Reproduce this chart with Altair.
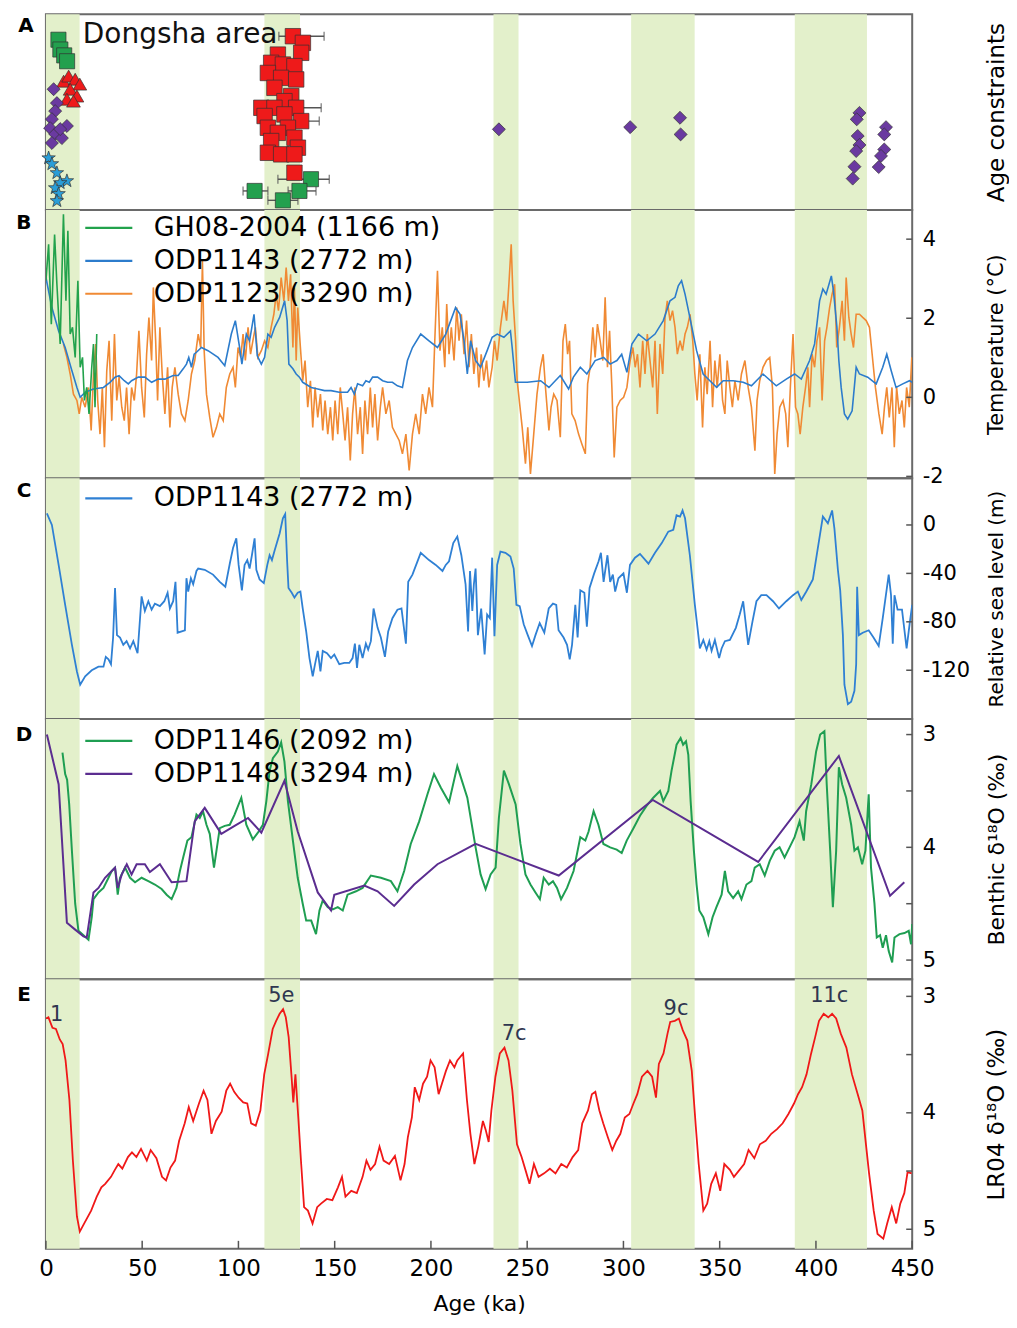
import altair as alt
import pandas as pd

FONT = "DejaVu Sans"
W = 868
HA, HB, HC, HD, HE = 196, 269, 241, 261, 270
BAND = "#e3f0cb"
TICKC = "#555555"

# ---------------- data ----------------
band_start = [0, 113.5, 232.5, 304, 389]
band_end = [17.5, 132, 245.5, 337, 426.5]

# Panel A : age constraints (age ka, relative vertical position)
A_green_sq = [(6.5, 0.87), (7.5, 0.82), (9.5, 0.79), (11, 0.76),
              (137.7, 0.157), (108.4, 0.097), (131.7, 0.097), (123.1, 0.049)]
A_green_err = [(137.7, 0.157, 120.5, 147.2), (108.4, 0.097, 102.4, 115.3),
               (131.7, 0.097, 125.8, 140.3), (123.1, 0.049, 115.3, 130.9)]
A_red_tri = [(9.2, 0.658), (11.8, 0.684), (15.2, 0.668), (17.6, 0.643),
             (12.6, 0.617), (16.1, 0.582), (10.9, 0.566), (14.3, 0.556)]
A_purple = [(4.0, 0.617), (5.7, 0.546), (4.8, 0.505), (3.1, 0.464), (2.2, 0.418),
            (10.9, 0.429), (4.8, 0.388), (8.3, 0.367), (3.1, 0.342), (7.4, 0.413),
            (235.3, 0.412), (303.5, 0.423), (329.4, 0.471), (329.7, 0.386),
            (422.6, 0.496), (421.2, 0.463), (421.7, 0.378), (422.6, 0.332),
            (420.9, 0.301), (420, 0.221), (419.1, 0.160), (436.4, 0.423),
            (435.5, 0.386), (435.5, 0.309), (433.8, 0.276), (432.6, 0.219)]
A_blue_star = [(1.4, 0.265), (3.1, 0.235), (5.7, 0.189), (10.9, 0.148),
               (7.4, 0.138), (4.8, 0.112), (6.6, 0.082), (5.7, 0.046)]
A_red_sq = [(128.3, 0.888), (133.5, 0.854), (132.6, 0.803), (120.5, 0.794),
            (117, 0.752), (123.1, 0.743), (129.1, 0.735), (115.3, 0.700),
            (122.2, 0.675), (130, 0.667), (118.7, 0.624), (127.4, 0.582),
            (123.9, 0.556), (111.9, 0.522), (118.7, 0.522), (130, 0.522),
            (113.6, 0.480), (123.9, 0.488), (132.6, 0.454), (115.3, 0.420),
            (125.7, 0.420), (120.5, 0.394), (129.1, 0.369), (117, 0.352),
            (130.9, 0.318), (115.3, 0.292), (122.2, 0.284), (129.1, 0.284),
            (129.1, 0.190)]
A_red_err = [(128.3, 0.888, 121, 144.5), (130, 0.522, 117, 143),
             (132.6, 0.454, 124, 142)]

# Panel B : temperature (deg C)
B_GH08 = [(0, 2.95), (1.4, 3.87), (2.8, 1.85), (4.5, 4.12), (5.7, 2.86), (7.4, 1.35),
          (9.1, 4.63), (10.4, 2.44), (11.4, 4.21), (12.6, 1.60), (13.8, 1.77),
          (15.2, 1.01), (16.6, 2.95), (17.8, 0.76), (19, 1.01), (20, -0.08),
          (21.2, 0.25), (22.4, -0.42), (23.8, 0.76), (24.7, 1.35), (25.5, -0.25),
          (26.4, 1.60)]
B_1143 = [(0, 3.03), (3.1, 2.27), (6.6, 1.68), (10, 1.26), (13.5, 0.67), (16.1, 0.25),
          (17.8, 0), (20.4, 0.13), (24.7, 0.21), (29.9, 0.25), (33.3, 0.38), (35.9, 0.51),
          (38, 0.55), (40.7, 0.42), (42.8, 0.34), (44.5, 0.42), (48, 0.51), (51.4, 0.51),
          (54.9, 0.38), (58.3, 0.46), (61.8, 0.46), (66.1, 0.55), (68.7, 0.55), (71.3, 0.72),
          (73, 0.84), (74.2, 1.01), (75.6, 0.76), (77, 1.09), (78.2, 1.14), (80.8, 1.26),
          (84.2, 1.18), (89.4, 1.01), (92.9, 0.80), (96.3, 1.60), (98.4, 1.94), (100.6, 1.26),
          (101.8, 0.84), (104.1, 1.60), (105.8, 1.43), (108.1, 2.10), (109.8, 1.05),
          (111.9, 0.84), (113.6, 1.01), (115.3, 1.60), (117, 1.52), (118.8, 1.77),
          (121.4, 2.02), (124, 2.44), (125.3, 1.94), (126.2, 0.84), (128.3, 0.72),
          (130, 0.59), (131.7, 0.51), (133.4, 0.38), (137.8, 0.25), (141.2, 0.21),
          (144.7, 0.17), (148.1, 0.17), (152.4, 0.13), (156.7, 0.13), (158.5, 0.25),
          (160.2, 0.08), (161.9, 0.34), (164.5, 0.29), (166.2, 0.42), (168, 0.38),
          (169.7, 0.51), (172.3, 0.51), (174.9, 0.42), (177.5, 0.38), (180, 0.38),
          (182.6, 0.29), (185.2, 0.25), (187.8, 0.93), (190.4, 1.26), (194.7, 1.60),
          (199, 1.43), (203.4, 1.26), (207.7, 1.60), (210.3, 1.94), (212.8, 2.27),
          (215.1, 2.10), (217.2, 1.43), (218.9, 0.59), (220.6, 1.43), (223.2, 0.93),
          (225.8, 0.76), (229.2, 1.18), (231.8, 1.52), (234.4, 1.60), (237.9, 1.52),
          (241.3, 1.68), (242.2, 1.26), (243.9, 0.38), (250, 0.38), (257, 0.42),
          (261.3, 0.25), (267.2, 0.55), (271.5, 0.21), (274, 0.51), (277.6, 0.76),
          (281, 0.59), (285.3, 0.93), (289.7, 1.01), (293.1, 0.84), (296.6, 0.93),
          (299.1, 1.09), (301.8, 0.63), (304.4, 1.35), (307.8, 1.60), (312.1, 1.43),
          (316.4, 1.60), (320.7, 1.94), (324.2, 2.44), (326.8, 2.53), (328.5, 2.82),
          (330.2, 2.95), (332, 2.61), (334.5, 2.02), (338, 1.18), (341.4, 0.59),
          (344.9, 0.42), (348.4, 0.25), (351.8, 0.42), (357, 0.42), (362.2, 0.38),
          (366.5, 0.29), (372.5, 0.59), (379.4, 0.29), (384.6, 0.46), (388.9, 0.59),
          (392.4, 0.46), (396.7, 0.93), (399.3, 1.35), (401.9, 2.44), (403.6, 2.74),
          (405.3, 2.61), (408, 3.07), (409.1, 2.69), (410.9, 1.77), (411.9, 0.93),
          (413.1, 0.25), (414.8, -0.42), (416.5, -0.55), (418.8, -0.34), (420.9, 0.76),
          (422.6, 0.59), (426.9, 0.51), (431.3, 0.34), (434.7, 0.76), (436.8, 1.09),
          (439.1, 0.67), (441.6, 0.25), (445.1, 0.34), (448.6, 0.42), (450, 0.38)]
B_1123 = [(9.1, 1.35), (10.9, 1.01), (12.6, 0.59), (14.3, 0.08), (16.1, -0.08), (17.3, -0.42),
          (18.6, 0), (20.4, -0.25), (22.1, 0.25), (23.5, -0.84), (24.7, 0.59), (25.9, 1.35),
          (26.9, -0.08), (28.1, -0.93), (29.3, 0.25), (30.4, -1.26), (31.6, 0.67), (32.8, 1.43),
          (34.2, -0.59), (35.6, 1.60), (36.8, -0.08), (38, 0.51), (39.4, -0.25), (40.7, -0.59),
          (41.9, 0.25), (43.2, -0.93), (44.5, 0.25), (45.9, -0.08), (47.1, 0.59), (48.3, 1.68),
          (49.7, 0.25), (51.1, -0.51), (52.3, 1.09), (53.5, 2.02), (54.9, 0.93), (55.8, 2.78),
          (57, 1.43), (58, -0.08), (59.2, 1.77), (60.4, 0.59), (61.8, -0.42), (63.2, 0.76),
          (64.4, -0.76), (65.6, 0.25), (67, 0.76), (68.7, 0.08), (70.4, -0.42), (72.2, -0.59),
          (73.9, -0.08), (75.6, 0.59), (77.3, 0.93), (79.1, 1.60), (80.4, 1.26), (81.3, 3.45),
          (82.2, 1.18), (83.4, 0.08), (85.1, -0.51), (86.8, -1.01), (88.6, -0.76), (90.3, -0.42),
          (92.1, -0.59), (93.7, 0.25), (95.5, 0.59), (97.2, 0.76), (98.4, 0.25), (99.8, 1.26),
          (101.2, 1.01), (102.4, 1.60), (103.6, 0.93), (105, 1.77), (106.3, 1.09), (107.5, 1.43),
          (108.8, 1.77), (110.1, 1.01), (111.9, 1.18), (113.6, 1.43), (115.3, 1.26), (117, 1.77),
          (118.4, 2.10), (119.6, 2.61), (120.8, 2.19), (122.2, 3.03), (123.6, 2.44), (124.8, 3.28),
          (126, 2.44), (127.1, 3.11), (128.3, 1.26), (129.1, 2.78), (130, 0.93), (130.8, 2.27),
          (132.2, 1.26), (133.4, 0.42), (134.6, 0.93), (136, -0.25), (137.4, 0.42), (138.6, -0.76),
          (139.8, 0.25), (141.2, -0.51), (142.6, 0.08), (143.8, -0.84), (145, -0.08), (146.4, -0.93),
          (147.8, -0.25), (149, -1.09), (150.2, -0.08), (151.6, -0.93), (152.9, 0.25), (154.2, -0.42),
          (155.4, -1.09), (156.7, -0.25), (158.1, -1.60), (159.3, -0.42), (160.5, 0.25), (161.9, -0.93),
          (163.3, -0.25), (164.5, -1.43), (165.7, -0.08), (167.1, -0.93), (168.5, 0.25), (169.7, -0.76),
          (170.9, 0.08), (172.3, -1.09), (173.7, -0.25), (174.9, 0.25), (176.6, -0.42), (178.3, -0.08),
          (180, -0.76), (181.8, -0.93), (183.5, -1.09), (185.2, -1.43), (187, -0.93), (188.7, -1.85),
          (190.4, -0.93), (192.1, -0.42), (193.9, -0.93), (195.6, 0.08), (197.3, -0.42), (199, 0.25),
          (200.8, -0.25), (202, 1.43), (203.4, 3.20), (204.7, 1.18), (205.9, 1.77), (207.2, 0.76),
          (208.2, 2.36), (209.4, 1.09), (210.6, 1.77), (212, 0.93), (213.4, 2.27), (214.6, 1.43),
          (215.8, 2.10), (217.2, 1.09), (218.5, 1.94), (219.8, 0.76), (221, 1.60), (222.3, 0.59),
          (223.7, 1.26), (224.9, 0.25), (226.1, 1.09), (227.5, 0.42), (228.9, 0.93), (230.1, 0.25),
          (231.8, 0.76), (233, 1.43), (234.4, 0.93), (236.1, 1.77), (237.9, 2.44), (239.3, 1.94),
          (240.5, 2.86), (241.7, 3.87), (242.7, 2.44), (244, 1.43), (244.8, 0.42), (247.4, -0.76),
          (249.1, -1.68), (250.3, -0.76), (251.7, -1.94), (253.4, -0.93), (255.1, 0.08), (256.9, 0.76),
          (258.3, 1.09), (259.5, 0.25), (261.3, -0.84), (262.4, -0.25), (263.8, 0.08), (265.5, -0.08),
          (267.2, -1.01), (268.6, 1.43), (269.8, 1.85), (271, 1.09), (272, 1.43), (273.2, -0.42),
          (274.9, -0.59), (276.7, -0.93), (278.4, -1.18), (280.2, -1.43), (281.4, 0.34), (282.7, 0.76),
          (284.1, 1.77), (285.3, 1.01), (286.5, 1.85), (287.9, 1.43), (289.3, 0.93), (290.5, 2.53),
          (291.7, 0.76), (292.8, 1.68), (294, 0.25), (295.2, -1.52), (296.6, -0.25), (298.3, -0.08),
          (300.1, 0), (301.8, 0.25), (303.5, 0.93), (304.9, 1.26), (306.1, 0.76), (307.3, 1.09),
          (308.6, 0.25), (310, 1.43), (311.2, 0.59), (312.4, 1.60), (313.8, 0.93), (315.2, 0.25),
          (316.4, 1.43), (317.6, -0.42), (319, 1.35), (320.4, 0.59), (321.6, 2.02), (322.8, 2.44),
          (324.2, 1.94), (325.5, 2.19), (326.8, 1.77), (328, 1.09), (329.4, 1.43), (330.7, 1.18),
          (332, 1.60), (333.2, 1.77), (334.6, 2.10), (336, 1.43), (337.1, 0.59), (338.3, -0.08),
          (339.7, 1.09), (341.1, -0.76), (342.3, 0.76), (343.5, 0.08), (345, 1.43), (346.3, -0.25),
          (347.5, 0.93), (348.7, 0.25), (350.1, 1.09), (351.5, -0.08), (352.7, -0.42), (353.9, 0.93),
          (355.3, 0.25), (356.6, -0.25), (357.9, 0.42), (359.6, -0.08), (361.3, 0.59), (363.1, 0.93),
          (364.8, 0.25), (366.5, -0.25), (368.3, -1.35), (369.4, -0.08), (370.8, 0.42), (372.5, 0.76),
          (374.3, 0.93), (376, 1.01), (377.4, 0.25), (378.6, -1.94), (379.8, -0.93), (381.2, -0.25),
          (382.9, -0.08), (384.3, -0.42), (385.4, -1.26), (386.7, 0.25), (388.1, 1.60), (389.4, -0.25),
          (390.6, -0.42), (391.8, -0.93), (393.2, -0.25), (394.6, 0.25), (395.8, 0.76), (396.7, -0.25),
          (398, 1.09), (399.3, 0.76), (400.5, 1.43), (401.9, 1.77), (403.2, -0.08), (404.5, 1.43),
          (405.7, 1.77), (407.1, 2.27), (408.4, 2.61), (409.7, 2.86), (410.8, 1.26), (412.2, 1.77),
          (413.6, 2.44), (414.8, 1.43), (415.7, 3.03), (417.1, 2.02), (418.3, 1.60), (419.5, 1.26),
          (420.9, 2.10), (422.6, 2.10), (424.3, 2.02), (426.1, 1.94), (427.8, 1.77), (429.2, 1.09),
          (430.9, 0.25), (432.7, -0.42), (434.4, -0.93), (435.6, -0.25), (436.8, 0.25), (438.1, -0.51),
          (439.5, 0.25), (440.7, -1.26), (441.9, 0.25), (443.3, -0.42), (444.7, -0.08), (445.9, -0.76),
          (447.1, 0.25), (448.5, -0.25), (449.8, 1.01)]

# Panel C : relative sea level (m)
C_1143 = [(0.5, 9.6), (3.1, 0), (6.6, -33), (10, -66), (13.5, -99), (16.1, -121), (17.8, -132),
          (20.4, -125), (23.8, -120), (27.3, -117), (29.9, -117), (31.1, -109), (32.5, -111),
          (33.8, -115), (34.9, -93), (35.9, -52), (36.9, -91), (38.5, -93), (40.2, -99), (41.9, -96),
          (43.7, -102), (45.4, -96), (47.6, -106), (49.7, -59), (51.4, -71), (53.2, -63), (54.9, -70),
          (56.6, -65), (59.2, -67), (61.5, -63), (63.2, -56), (64.4, -69), (66.1, -63), (67.3, -47),
          (68.4, -89), (72.2, -87), (73, -44), (73.9, -55), (75.3, -44), (76.5, -49), (78.2, -38),
          (79.1, -36), (82.5, -37), (86.8, -41), (90.3, -47), (93.2, -51), (95.5, -32), (97.2, -19),
          (98.9, -11), (100.1, -33), (101.8, -54), (103.2, -33), (104.6, -29), (105.8, -36), (107, -25),
          (108.4, -11), (109.3, -37), (111, -45), (113.2, -48), (115, -33), (116.2, -25), (117.4, -29),
          (118.8, -21), (121.4, -7), (123.1, 5.5), (124.3, 9), (125.3, -30), (126, -52), (127.7, -56),
          (129.1, -60), (130.8, -56), (132.2, -55), (133.4, -69), (135.2, -88), (136.9, -110),
          (138.6, -125), (139.8, -115), (141.2, -104), (142.6, -121), (143.8, -104), (146, -106),
          (148.1, -110), (149.8, -107), (152.4, -115), (155, -114), (157.6, -114), (159.3, -110),
          (160.5, -98), (161.6, -118), (162.8, -99), (164.5, -110), (166.2, -98), (167.4, -103),
          (168.8, -96), (170.2, -69), (172.3, -85), (174, -93), (176.1, -109), (177.8, -88), (180, -77),
          (182.6, -70), (184.7, -69), (187, -98), (188.2, -47), (190.4, -41), (194.7, -23), (199, -29),
          (202.5, -33), (206, -38), (207.7, -33), (209.4, -30), (211.6, -15), (213.7, -9.6), (215.8, -25),
          (218, -49), (219.3, -88), (220.3, -38), (221.5, -71), (222.3, -49), (223.2, -36), (224.4, -91),
          (226.1, -69), (227.9, -107), (229.2, -74), (230.6, -77), (231.8, -27), (233, -92), (234.4, -33),
          (236.1, -22), (238.7, -23), (241.3, -26), (243, -36), (244.4, -66), (246.1, -67), (248.2, -82),
          (250.3, -91), (252.5, -100), (254.3, -91), (256.5, -81), (258.9, -89), (261.2, -69),
          (263.4, -65), (265.1, -66), (266.3, -87), (268.9, -93), (270.7, -99), (272.1, -111),
          (273.3, -99), (275, -66), (276.2, -93), (277.6, -54), (279.7, -56), (281, -84), (282.4, -52),
          (284.8, -40), (287.1, -30), (288.3, -23), (289.7, -47), (291.7, -25), (293.1, -47),
          (294.5, -41), (295.7, -55), (297.4, -44), (300, -40), (301.8, -56), (303.4, -33), (306, -27),
          (308.6, -24), (313, -32), (316.4, -23), (319.9, -15), (323.3, -5.5), (325.9, -4), (327.6, 8),
          (329.4, 7), (330.7, 12), (332, 5.5), (334.5, -25), (337.1, -66), (339.7, -102), (341.5, -95),
          (343.2, -103), (344.6, -96), (345.8, -104), (347.5, -95), (349.7, -110), (351, -102),
          (352.7, -96), (355.3, -95), (358.4, -85), (360.4, -74), (362.2, -63), (364.8, -99), (367, -80),
          (369.1, -63), (371.6, -58), (374.3, -58), (377.7, -63), (380.8, -69), (384.6, -63),
          (388.1, -58), (390.6, -55), (392.4, -62), (395, -55), (398.4, -45), (401, -19), (403.6, 7),
          (406.2, 1.4), (408.4, 12), (409.6, -3), (411.4, -37), (412.6, -54), (413.1, -67), (414, -91),
          (414.8, -132), (416.6, -148), (418.3, -146), (420, -137), (420.9, -115), (421.4, -51),
          (422.3, -91), (424.3, -89), (427.4, -87), (429.9, -93), (432.6, -100), (434.7, -77),
          (437.8, -41), (439, -58), (439.9, -98), (440.8, -58), (442.4, -70), (444.7, -70),
          (447.1, -102), (448.8, -80), (450, -66)]

# Panel D : benthic d18O (permil)
D_1146 = [(8.6, 3.16), (10, 3.35), (11, 3.40), (12.1, 3.62), (13.5, 4.03), (15.2, 4.50), (16.9, 4.74),
          (19.5, 4.78), (22.1, 4.82), (23.8, 4.62), (24.7, 4.46), (27.3, 4.40), (29.9, 4.36), (32.5, 4.27),
          (34.2, 4.21), (35.9, 4.18), (37.3, 4.42), (38.5, 4.27), (41.1, 4.18), (43.7, 4.27), (46.3, 4.31),
          (49.7, 4.27), (53.2, 4.30), (56.6, 4.33), (60.1, 4.37), (62.7, 4.42), (65.3, 4.46), (67.8, 4.36),
          (69.6, 4.21), (71.3, 4.09), (73.5, 3.94), (75.6, 3.91), (78.2, 3.71), (79.9, 3.74), (81.6, 3.68),
          (83.4, 3.80), (85.1, 3.88), (87.3, 4.18), (88.6, 4.03), (90.3, 3.83), (92.9, 3.81), (95.5, 3.80),
          (98, 3.71), (101.5, 3.56), (104.1, 3.80), (107.5, 3.93), (110.1, 3.87), (112.7, 3.80),
          (114.5, 3.59), (116.2, 3.32), (117.9, 3.21), (120.5, 3.15), (122.2, 3.07), (123.9, 3.24),
          (125.7, 3.59), (128.3, 3.94), (130.8, 4.27), (133.4, 4.50), (135.2, 4.65), (137.8, 4.65),
          (140.3, 4.77), (142.1, 4.56), (143.8, 4.47), (146.4, 4.53), (149, 4.55), (151.6, 4.53),
          (154.2, 4.56), (156.7, 4.42), (161.1, 4.39), (164.5, 4.36), (168.8, 4.25), (174, 4.27),
          (179.2, 4.30), (182.6, 4.39), (186.1, 4.21), (189.5, 3.97), (193.9, 3.77), (198.2, 3.53),
          (201.6, 3.35), (205.1, 3.47), (209.4, 3.60), (213.7, 3.28), (218.9, 3.56), (223.2, 4.0),
          (225.8, 4.24), (228.4, 4.37), (231, 4.24), (233.6, 4.18), (235.3, 3.74), (237.9, 3.32),
          (240.5, 3.44), (244, 3.62), (246.5, 3.97), (249.1, 4.24), (251.7, 4.33), (254.3, 4.40),
          (256.6, 4.46), (258.6, 4.27), (261.2, 4.33), (263.4, 4.30), (265.5, 4.36), (267.6, 4.46),
          (270.7, 4.36), (274.1, 4.21), (277.6, 3.91), (280.2, 3.94), (281.9, 3.86), (284.5, 3.68),
          (287, 3.80), (289.6, 3.97), (293.1, 4.0), (296.5, 4.02), (299.1, 4.05), (301.7, 3.94),
          (305.2, 3.83), (308.6, 3.72), (312.1, 3.63), (315.5, 3.56), (319, 3.50), (320.7, 3.59),
          (323.3, 3.50), (325, 3.32), (327.6, 3.09), (329.7, 3.03), (331, 3.09), (332.5, 3.06),
          (333.7, 3.18), (334.9, 3.59), (336.6, 4.03), (338, 4.33), (339.4, 4.56), (341.5, 4.62),
          (344.1, 4.77), (346.3, 4.62), (348.3, 4.53), (351, 4.42), (352.7, 4.21), (354.4, 4.39),
          (357, 4.45), (359.6, 4.39), (361.3, 4.46), (363.9, 4.33), (366.5, 4.30), (368.2, 4.18),
          (370.8, 4.15), (373.4, 4.25), (376, 4.12), (378.6, 4.03), (381.1, 4.0), (383.7, 4.09),
          (386.3, 4.0), (388.9, 3.91), (391.5, 3.77), (393.7, 3.94), (394.9, 3.68), (397.6, 3.44),
          (400.1, 3.15), (402.2, 3.0), (404.4, 2.97), (405.6, 3.44), (407.4, 4.03), (408.8, 4.53),
          (410.5, 4.03), (411.9, 3.29), (413.6, 3.44), (415.7, 3.56), (418.3, 3.80), (420, 4.03),
          (421.8, 4.0), (424, 4.15), (425.7, 4.03), (427.4, 3.53), (428.6, 4.18), (430.4, 4.50),
          (431.6, 4.80), (433.3, 4.78), (434.7, 4.89), (436.4, 4.78), (437.8, 4.92), (439.6, 5.02),
          (440.8, 4.80), (443.4, 4.77), (446, 4.76), (448.2, 4.74), (449.4, 4.86), (450, 4.68)]
D_1148 = [(0.5, 3.0), (6.6, 3.44), (10.9, 4.67), (15.2, 4.73), (19.5, 4.79), (21.2, 4.80), (24.7, 4.40),
          (27.3, 4.36), (30.7, 4.27), (34.2, 4.21), (35.9, 4.18), (37.3, 4.36), (39.4, 4.24), (42, 4.15),
          (44.5, 4.24), (47.1, 4.15), (51.4, 4.15), (54, 4.22), (59.2, 4.15), (65.3, 4.31), (73, 4.30),
          (77.3, 3.77), (82.5, 3.65), (91.1, 3.88), (98, 3.81), (105, 3.74), (111.9, 3.87), (123.9, 3.41),
          (130.8, 3.86), (141.2, 4.40), (148.1, 4.56), (149.8, 4.42), (165.4, 4.34), (172.3, 4.39),
          (180.9, 4.52), (191.3, 4.33), (203.4, 4.15), (223.2, 3.97), (266.4, 4.25), (315.2, 3.58),
          (370, 4.13), (411.9, 3.19), (438.5, 4.43), (445.9, 4.31)]

# Panel E : LR04 stack (permil)
E_LR04 = [(0, 3.19), (1.3, 3.18), (3.4, 3.27), (5.2, 3.28), (7.2, 3.37), (8.7, 3.41), (10.2, 3.55),
          (12.2, 3.89), (14, 4.41), (16.1, 4.89), (17.6, 5.02), (19.9, 4.95), (23.5, 4.84), (26.4, 4.72),
          (28.8, 4.64), (30.8, 4.61), (33.8, 4.55), (35.8, 4.49), (37.6, 4.44), (39.7, 4.48), (42.6, 4.38),
          (44.7, 4.34), (47, 4.38), (49.4, 4.31), (52.4, 4.41), (54.4, 4.32), (57.4, 4.39), (60.3, 4.55),
          (62.4, 4.58), (64.7, 4.47), (67.1, 4.41), (69.2, 4.24), (72.1, 4.09), (74.2, 3.95), (76.5, 4.07),
          (79.5, 3.92), (81.9, 3.81), (83.9, 3.89), (86, 4.18), (88.3, 4.07), (91.3, 3.99), (93.7, 3.81),
          (95.7, 3.75), (97.8, 3.82), (100.1, 3.87), (102.5, 3.91), (104.6, 3.92), (106.6, 4.09),
          (109, 4.11), (111.4, 3.98), (113.4, 3.67), (115.5, 3.49), (117.8, 3.28), (119.6, 3.21),
          (121.4, 3.15), (123.2, 3.11), (124.6, 3.18), (126.1, 3.35), (127.6, 3.69), (128.5, 3.91),
          (129.6, 3.67), (131.1, 4.04), (132.6, 4.44), (134.1, 4.81), (136.1, 4.84), (138.5, 4.95),
          (140.9, 4.81), (142.9, 4.78), (145.9, 4.74), (148.8, 4.75), (151.7, 4.64), (153.8, 4.55),
          (155.6, 4.72), (158.6, 4.67), (161.5, 4.69), (164.5, 4.55), (166.5, 4.41), (168.6, 4.49),
          (171, 4.44), (173.3, 4.29), (175.4, 4.41), (178.3, 4.44), (181.3, 4.37), (184.2, 4.58),
          (186.3, 4.44), (188, 4.21), (190.1, 4.04), (191.6, 3.78), (193.9, 3.89), (195.9, 3.75),
          (198, 3.69), (199.8, 3.55), (201.9, 3.61), (204, 3.84), (205.7, 3.75), (207.8, 3.64),
          (209.9, 3.55), (212.2, 3.61), (213.7, 3.55), (216.7, 3.49), (218.7, 3.89), (220.5, 4.18),
          (222.6, 4.44), (224.6, 4.29), (227, 4.07), (228.5, 4.15), (230, 4.25), (231.4, 3.98),
          (233.5, 3.69), (235.8, 3.49), (238.2, 3.44), (240.3, 3.55), (242.3, 3.81), (244.7, 4.27),
          (247.1, 4.38), (249.1, 4.49), (251.2, 4.61), (253.5, 4.44), (255.9, 4.55), (258.8, 4.52),
          (261.8, 4.48), (264.7, 4.52), (267.7, 4.44), (270.6, 4.47), (273.6, 4.38), (276.5, 4.32),
          (278.6, 4.09), (281.6, 3.98), (283.6, 3.84), (285.4, 3.82), (287.5, 3.98), (289.5, 4.09),
          (291.9, 4.21), (294.2, 4.32), (296.3, 4.24), (298.4, 4.18), (300.7, 4.04), (303.1, 4.01),
          (305.2, 3.92), (307.2, 3.84), (309.6, 3.69), (312.5, 3.64), (314.9, 3.69), (316.9, 3.87),
          (318.4, 3.58), (320.8, 3.49), (322.9, 3.32), (324.3, 3.22), (326.7, 3.21), (328.8, 3.19),
          (330.8, 3.29), (333.2, 3.38), (335.5, 3.64), (337.6, 4.12), (339.1, 4.44), (341.5, 4.84),
          (343.5, 4.78), (345.6, 4.61), (348, 4.52), (350.3, 4.67), (352.4, 4.44), (355.3, 4.49),
          (357.4, 4.55), (360.3, 4.49), (362.7, 4.44), (365, 4.32), (368, 4.39), (370.9, 4.27),
          (373.9, 4.24), (376.8, 4.18), (379.8, 4.14), (382.7, 4.09), (385.7, 4.01), (388.6, 3.92),
          (390.7, 3.84), (392.8, 3.78), (395.1, 3.67), (397.5, 3.49), (399.6, 3.35), (401.6, 3.21),
          (404, 3.15), (406.4, 3.18), (408.4, 3.15), (410.5, 3.19), (412.9, 3.32), (415.8, 3.44),
          (418.7, 3.67), (421.7, 3.84), (424.1, 3.98), (426.1, 4.29), (427.6, 4.52), (430, 4.84),
          (432, 5.04), (435, 5.08), (437, 4.95), (439.4, 4.81), (441.7, 4.95), (443.8, 4.78),
          (445.9, 4.69), (447.6, 4.51), (449.7, 4.52)]
E_stage_label = ["1", "5e", "7c", "9c", "11c"]
E_stage_age = [5.6, 122.3, 243.2, 327.3, 406.9]
E_stage_val = [3.16, 3.0, 3.32, 3.11, 3.0]

x_ticks = [0, 50, 100, 150, 200, 250, 300, 350, 400, 450]
B_ticks = [-2, 0, 2, 4]
C_ticks = [0, -40, -80, -120]
D_ticks = [3, 3.5, 4, 4.5, 5]
E_ticks = [3, 3.5, 4, 4.5, 5]

B_labels = ["GH08-2004 (1166 m)", "ODP1143 (2772 m)", "ODP1123 (3290 m)"]
B_colors = ["#22a24c", "#2c7ccc", "#f08a34"]
C_labels = ["ODP1143 (2772 m)"]
C_colors = ["#2f80d4"]
D_labels = ["ODP1146 (2092 m)", "ODP1148 (3294 m)"]
D_colors = ["#1f9e52", "#5b2d90"]
E_color = "#f01818"

# ---------------- helpers ----------------
XSCALE = alt.Scale(domain=[0, 450], nice=False, zero=False)
bands_df = pd.DataFrame({"start": band_start, "end": band_end})
LEG_LINE = "M-1.26,0L1.26,0"


def xq(field, axis=None):
    return alt.X(field, type="quantitative", scale=XSCALE, axis=axis)


def bands(h, axis=None):
    return alt.Chart(bands_df).mark_rect(color=BAND).encode(
        x=xq("start", axis), x2="end", y=alt.value(0), y2=alt.value(h))


def letter(t, dx, dy):
    return alt.Chart(pd.DataFrame({"t": [t]})).mark_text(
        font=FONT, fontSize=20, fontWeight="bold", align="center", baseline="middle",
        color="black").encode(text="t:N", x=alt.value(dx), y=alt.value(dy))


def yaxis(title, h, ticks, tsize, labels=True, integer_only=False):
    kw = dict(orient="right", title=title, titleFont=FONT, titleFontSize=tsize,
              titleFontWeight="normal", titleColor="black", titleAngle=270,
              titleX=84, titleY=h / 2, titleAlign="center", titleBaseline="middle",
              ticks=False, domain=False, grid=False)
    if labels:
        kw.update(values=ticks, labelFont=FONT, labelFontSize=21, labelColor="black",
                  labelPadding=10, labelOverlap=False, labelFlush=False)
        if integer_only:
            kw["labelExpr"] = "datum.value % 1 == 0 ? '' + datum.value : ''"
        else:
            kw["labelExpr"] = "'' + datum.value"
    else:
        kw.update(labels=False)
    return alt.Axis(**kw)


def ytick_rules(ticks, yscale, axis):
    return alt.Chart(pd.DataFrame({"v": ticks})).mark_rule(
        color=TICKC, strokeWidth=1.5).encode(
        y=alt.Y("v:Q", scale=yscale, axis=axis), x=alt.value(W - 6), x2=alt.value(W))


def line_legend(x, y):
    return alt.Legend(title=None, orient="none", legendX=x, legendY=y, symbolType=LEG_LINE,
                      symbolSize=1400, symbolStrokeWidth=2.2, labelFont=FONT,
                      labelFontSize=27, labelColor="black", labelLimit=600,
                      labelOffset=25, rowPadding=-2.5, padding=0)


def series_df(pairs, name):
    return pd.DataFrame(pairs, columns=["age", "v"]).assign(s=name)


# ---------------- panel A ----------------
yA = alt.Scale(domain=[0, 1], nice=False, zero=False)
axA = yaxis("Age constraints", HA, None, 23, labels=False)


def pts(pairs, shape, size, fill):
    df = pd.DataFrame(pairs, columns=["age", "v"])
    return alt.Chart(df).mark_point(shape=shape, size=size, filled=True, fill=fill,
                                    fillOpacity=1, opacity=1, stroke="#333333",
                                    strokeWidth=0.7).encode(
        x=xq("age"), y=alt.Y("v:Q", scale=yA, axis=axA))


def errs(rows):
    df = pd.DataFrame(rows, columns=["age", "v", "lo", "hi"])
    base = alt.Chart(df)
    bar = base.mark_rule(color=TICKC, strokeWidth=1.4).encode(
        x=xq("lo"), x2="hi", y=alt.Y("v:Q", scale=yA, axis=axA))
    caps_hi = base.mark_tick(color=TICKC, thickness=1.4, size=9, orient="vertical").encode(
        x=xq("hi"), y=alt.Y("v:Q", scale=yA, axis=axA))
    caps_lo = base.mark_tick(color=TICKC, thickness=1.4, size=9, orient="vertical").encode(
        x=xq("lo"), y=alt.Y("v:Q", scale=yA, axis=axA))
    return bar + caps_lo + caps_hi


STAR = ("M0,-1L0.235,-0.324L0.951,-0.309L0.38,0.124L0.588,0.809L0,0.4L-0.588,0.809"
        "L-0.38,0.124L-0.951,-0.309L-0.235,-0.324Z")

dongsha = alt.Chart(pd.DataFrame({"t": ["Dongsha area"]})).mark_text(
    font=FONT, fontSize=28, align="left", baseline="middle", color="#111111").encode(
    text="t:N", x=alt.value(37), y=alt.value(21))

panelA = alt.layer(
    bands(HA),
    errs(A_red_err + A_green_err),
    pts(A_red_sq, "square", 240, "#ee1a1a"),
    pts(A_green_sq, "square", 230, "#23a04e"),
    pts(A_red_tri, "triangle-up", 190, "#ee1a1a"),
    pts(A_purple, "diamond", 170, "#6a3aa0"),
    pts(A_blue_star, STAR, 200, "#2a9ed8"),
    dongsha,
    letter("A", -20, 12),
).properties(width=W, height=HA)

# ---------------- panel B ----------------
yB = alt.Scale(domain=[-2.05, 4.74], nice=False, zero=False)
axB = yaxis("Temperature (°C)", HB, B_ticks, 21)
colB = alt.Scale(domain=B_labels, range=B_colors)


def lineB(pairs, name):
    return alt.Chart(series_df(pairs, name)).mark_line(strokeWidth=1.6, clip=True).encode(
        x=xq("age"), y=alt.Y("v:Q", scale=yB, axis=axB),
        color=alt.Color("s:N", scale=colB, legend=line_legend(43, -2)))


panelB = alt.layer(
    bands(HB),
    lineB(B_1123, B_labels[2]),
    lineB(B_1143, B_labels[1]),
    lineB(B_GH08, B_labels[0]),
    ytick_rules(B_ticks, yB, axB),
    letter("B", -22, 13),
).properties(width=W, height=HB)

# ---------------- panel C ----------------
yC = alt.Scale(domain=[-160.2, 38.5], nice=False, zero=False)
axC = yaxis("Relative sea level (m)", HC, C_ticks, 20)
panelC = alt.layer(
    bands(HC),
    alt.Chart(series_df(C_1143, C_labels[0])).mark_line(strokeWidth=1.8, clip=True).encode(
        x=xq("age"), y=alt.Y("v:Q", scale=yC, axis=axC),
        color=alt.Color("s:N", scale=alt.Scale(domain=C_labels, range=C_colors),
                        legend=line_legend(43, 0))),
    ytick_rules(C_ticks, yC, axC),
    letter("C", -22, 13),
).properties(width=W, height=HC)

# ---------------- panel D ----------------
yD = alt.Scale(domain=[2.861, 5.171], nice=False, zero=False, reverse=True)
axD = yaxis("Benthic δ¹⁸O (‰)", HD, D_ticks, 22, integer_only=True)
colD = alt.Scale(domain=D_labels, range=D_colors)


def lineD(pairs, name):
    return alt.Chart(series_df(pairs, name)).mark_line(strokeWidth=2, clip=True).encode(
        x=xq("age"), y=alt.Y("v:Q", scale=yD, axis=axD),
        color=alt.Color("s:N", scale=colD, legend=line_legend(43, 2)))


panelD = alt.layer(
    bands(HD),
    lineD(D_1146, D_labels[0]),
    lineD(D_1148, D_labels[1]),
    ytick_rules(D_ticks, yD, axD),
    letter("D", -22, 16),
).properties(width=W, height=HD)

# ---------------- panel E ----------------
yE = alt.Scale(domain=[2.854, 5.168], nice=False, zero=False, reverse=True)
axE = yaxis("LR04 δ¹⁸O (‰)", HE, E_ticks, 23, integer_only=True)
axX = alt.Axis(values=x_ticks, ticks=False, domain=False, grid=False, labelFont=FONT,
               labelFontSize=23, labelColor="black", labelPadding=9, labelFlush=False,
               labelOverlap=False, title="Age (ka)", titleFont=FONT, titleFontSize=22,
               titleFontWeight="normal", titleColor="black", titlePadding=13)

stage_df = pd.DataFrame({"age": E_stage_age, "v": E_stage_val, "t": E_stage_label})

panelE = alt.layer(
    bands(HE, axX),
    alt.Chart(series_df(E_LR04, "LR04")).mark_line(strokeWidth=1.8, color=E_color,
                                                   clip=True).encode(
        x=xq("age", axX), y=alt.Y("v:Q", scale=yE, axis=axE)),
    alt.Chart(stage_df).mark_text(font=FONT, fontSize=21, color="#2f3650",
                                  baseline="middle", align="center").encode(
        x=xq("age", axX), y=alt.Y("v:Q", scale=yE, axis=axE), text="t:N"),
    alt.Chart(pd.DataFrame({"t": x_ticks})).mark_rule(color=TICKC, strokeWidth=1.5).encode(
        x=xq("t", axX), y=alt.value(HE - 8), y2=alt.value(HE)),
    ytick_rules(E_ticks, yE, axE),
    letter("E", -22, 16),
).properties(width=W, height=HE)

chart = alt.vconcat(panelA, panelB, panelC, panelD, panelE, spacing=0, bounds="flush").resolve_scale(
    x="independent", y="independent", color="independent").resolve_legend(
    color="independent").configure_view(stroke="#6a6a6a", strokeWidth=2).properties(
    padding={"left": 6, "top": 4, "right": 0, "bottom": 0}, background="white")

chart.save("out.html", embed_options={"renderer": "svg", "actions": False})
